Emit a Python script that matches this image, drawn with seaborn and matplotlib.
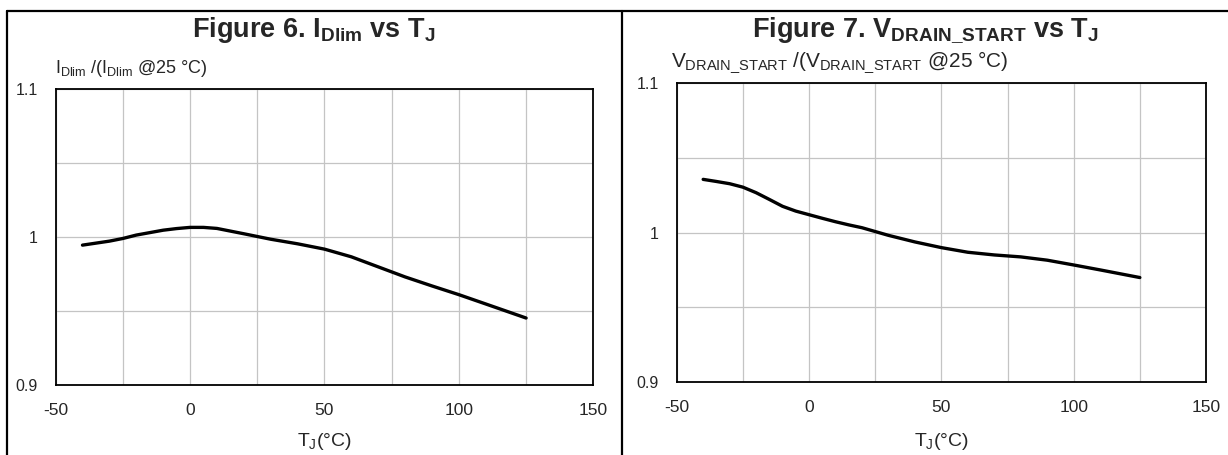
import matplotlib
matplotlib.use("Agg")
import matplotlib.pyplot as plt
from matplotlib.lines import Line2D
from matplotlib.ticker import FixedLocator, FuncFormatter
import pandas as pd
import seaborn as sns

# Figure 6: normalised drain current limit vs junction temperature
tj_idlim = [-40, -30, -25, -20, -10, -5, 0, 5, 10, 20, 30, 40, 50, 60, 70, 80, 90, 100, 110, 125]
idlim_norm = [0.9946, 0.9973, 0.9991, 1.0014, 1.0047, 1.0058, 1.0066, 1.0066, 1.0059, 1.0023,
              0.9986, 0.9955, 0.9919, 0.9867, 0.9799, 0.9731, 0.9670, 0.9611, 0.9548, 0.9453]

# Figure 7: normalised drain start voltage vs junction temperature
tj_vdrain = [-40, -35, -30, -25, -20, -15, -10, -5, 0, 5, 10, 15, 20, 30, 40, 50, 60, 70, 80,
             90, 100, 110, 125]
vdrain_norm = [1.0356, 1.0342, 1.0327, 1.0304, 1.0267, 1.0222, 1.0176, 1.0144, 1.0120, 1.0096,
               1.0073, 1.0052, 1.0033, 0.9982, 0.9938, 0.9900, 0.9869, 0.9851, 0.9838, 0.9816,
               0.9784, 0.9751, 0.9700]

x_grid = [-50, -25, 0, 25, 50, 75, 100, 125, 150]
x_labelled = [-50, 0, 50, 100, 150]
y_grid = [0.9, 0.95, 1.0, 1.05, 1.1]
y_labelled = [0.9, 1.0, 1.1]

titles = [r"Figure 6. $\mathbf{I_{Dlim}}$ vs $\mathbf{T_J}$",
          r"Figure 7. $\mathbf{V_{DRAIN\_START}}$ vs $\mathbf{T_J}$"]
ylabels = [r"$I_{Dlim}$ /($I_{Dlim}$ @25 °C)",
           r"$V_{DRAIN\_START}$ /($V_{DRAIN\_START}$ @25 °C)"]
xlabel = r"$T_J$(°C)"

sns.set_style("white")
plt.rcParams["font.family"] = ["Liberation Sans", "DejaVu Sans"]
plt.rcParams["mathtext.fontset"] = "custom"
plt.rcParams["mathtext.rm"] = "Liberation Sans"
plt.rcParams["mathtext.it"] = "Liberation Sans"
plt.rcParams["mathtext.bf"] = "Liberation Sans:bold"

W, H = 1228, 455
fig = plt.figure(figsize=(W / 100, H / 100), dpi=100)


def fx(px):
    return px / W


def fy(py):
    return 1 - py / H


# axes boxes in pixel coordinates: left, top, right, bottom
boxes = [(55.6, 89.3, 593.3, 385.0), (676.7, 83.0, 1206.0, 382.3)]
cell_centres = [314, 925]
ylabel_pos = [(55, 73), (671, 67)]
ylabel_sizes = [13, 15]
series = [(tj_idlim, idlim_norm), (tj_vdrain, vdrain_norm)]

for i, (l, t, r, b) in enumerate(boxes):
    ax = fig.add_axes([fx(l), fy(b), fx(r - l), (b - t) / H])
    df = pd.DataFrame({"tj": series[i][0], "ratio": series[i][1]})
    sns.lineplot(data=df, x="tj", y="ratio", ax=ax, color="black", lw=2.4)
    ax.set_xlim(-50, 150)
    ax.set_ylim(0.9, 1.1)
    ax.xaxis.set_major_locator(FixedLocator(x_grid))
    ax.yaxis.set_major_locator(FixedLocator(y_grid))
    ax.xaxis.set_major_formatter(FuncFormatter(
        lambda v, p: f"{v:g}" if any(abs(v - k) < 1e-6 for k in x_labelled) else ""))
    ax.yaxis.set_major_formatter(FuncFormatter(
        lambda v, p: f"{v:g}" if any(abs(v - k) < 1e-6 for k in y_labelled) else ""))
    ax.tick_params(axis="x", length=0, pad=13, labelsize=12.5)
    ax.tick_params(axis="y", length=0, pad=13, labelsize=11.5)
    ax.grid(True, color="#c4c4c4", lw=0.9)
    for sp in ax.spines.values():
        sp.set_visible(True)
        sp.set_color("black")
        sp.set_linewidth(1.3)
    ax.set_xlabel("")
    ax.set_ylabel("")

    fig.text(fx(cell_centres[i]), fy(37), titles[i], ha="center", va="baseline",
             fontsize=19.5, fontweight="bold")
    fig.text(fx(ylabel_pos[i][0]), fy(ylabel_pos[i][1]), ylabels[i], ha="left",
             va="baseline", fontsize=ylabel_sizes[i])
    fig.text(fx((l + r) / 2), fy(446), xlabel, ha="center", va="baseline", fontsize=14)

# table-style frame around the two panels
frame = dict(color="black", lw=1.6, transform=fig.transFigure)
fig.add_artist(Line2D([fx(7), 1], [fy(11), fy(11)], **frame))
fig.add_artist(Line2D([fx(7), fx(7)], [fy(11), 0], **frame))
fig.add_artist(Line2D([fx(621.7), fx(621.7)], [fy(11), 0], **frame))

fig.savefig("out.png", dpi=100)
